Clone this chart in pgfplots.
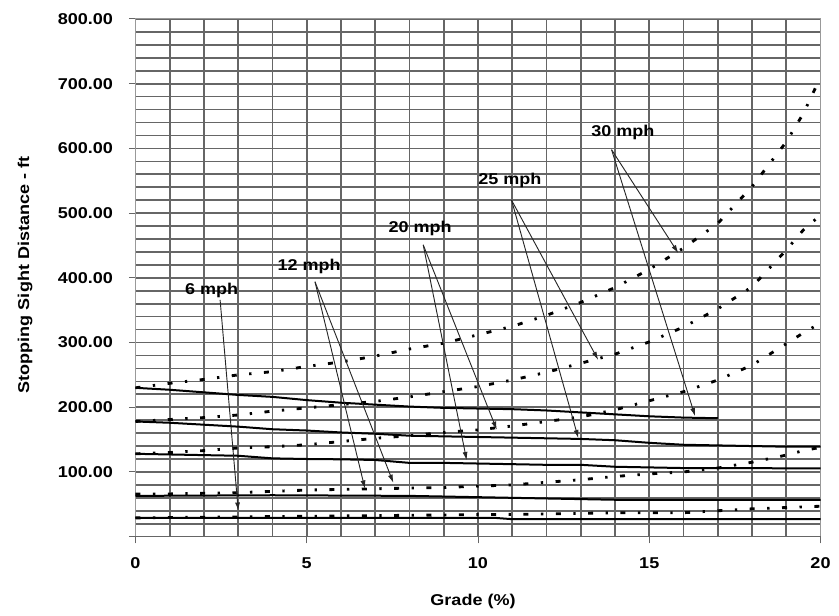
\documentclass[border=0pt]{standalone}
\usepackage{fontspec}
\setmainfont{Liberation Sans}[FakeStretch=1.15]
\usepackage{pgfplots}
\pgfplotsset{compat=1.18}
\usetikzlibrary{arrows.meta}
\newcommand\lbl{\fontsize{9.4}{11}\selectfont\bfseries}
\tikzset{
  solid line/.style={black, line width=1.2pt},
  dd line/.style={black, line width=1.7pt, dash pattern=on 3pt off 7.5pt on 1.4pt off 7.5pt},
  arr/.style={black!85, line width=0.55pt, -{Latex[length=5pt,width=3pt]}},
}
\begin{document}
\begin{tikzpicture}
\begin{axis}[
  width=411pt, height=310.6pt, scale only axis,
  xmin=0, xmax=20, ymin=0, ymax=800,
  xtick={0,5,10,15,20},
  ytick={100,200,...,800},
  extra y ticks={0}, extra y tick labels={},
  minor xtick={0,1,...,20},
  minor ytick={0,20,...,800},
  grid=both,
  major grid style={black!60, line width=1pt},
  minor grid style={black!60, line width=1pt},
  tick align=outside, major tick length=4pt, minor tick length=0pt,
  xtick pos=left, ytick pos=left,
  axis line style={black!40, line width=0.6pt},
  tick style={black!60, line width=0.6pt},
  /pgf/number format/assume math mode=true,
  ticklabel style={font=\lbl},
  yticklabel style={/pgf/number format/fixed, /pgf/number format/fixed zerofill, /pgf/number format/precision=2, xshift=-6pt},
  xticklabel style={yshift=-5pt},
  clip=false,
]
% 30 mph
\addplot[solid line] coordinates {(0,230)(1,227)(2,223)(3,219)(4,216)(5,211)(6,207)(7,204)(8,201)(9,199)(10,198)(11,197)(12,195)(13,192)(14,189)(15,186)(16,184)(17,183)};
\addplot[dd line] coordinates {(0,230)(1,237)(2,243)(3,250)(4,255)(5,263)(6,270)(7,279)(8,290)(9,299)(10,312)(11,325)(12,342)(13,362)(14,385)(15,413)(16,446)(17,484)(18,541)(19,610)(19.5,654)(20,710)};
% 25 mph
\addplot[solid line] coordinates {(0,178)(1,176)(2,173)(3,170)(4,166)(5,164)(6,161)(7,159)(8,156)(9,155)(10,154)(11,153)(12,152)(13,151)(14,149)(15,145)(16,142)(17,141)(18,140)(19,139)(20,139)};
\addplot[dd line] coordinates {(0,178)(1,181)(2,184)(3,188)(4,194)(5,199)(6,204)(7,209)(8,216)(9,224)(10,232)(11,242)(12,254)(13,268)(14,282)(15,301)(16,324)(17,352)(18,386)(19,443)(19.5,474)(20,497)};
% 20 mph
\addplot[solid line] coordinates {(0,128)(1,127)(2,126)(3,125)(4,121)(5,120)(6,119.5)(7,118.5)(8,114)(9,114)(10,113)(11,112)(12,111)(13,111)(14,108)(15,107)(16,106)(17,106)(18,106)(19,105.5)(20,105.5)};
\addplot[dd line] coordinates {(0,128)(1,130)(2,133)(3,137)(4,139)(5,142)(6,147)(7,152)(8,156)(9,161)(10,165)(11,171)(12,178)(13,185)(14,196)(15,210)(16,224)(17,242)(18,265)(19,298)(19.5,315)(20,330)};
% 12 mph
\addplot[solid line] coordinates {(0,63)(4,64)(8,63)(10,61)(12,59)(13,58)(14,57)(20,57)};
\addplot[dd line] coordinates {(0,66)(1,66)(2,67)(3,68)(4,70)(5,72)(6,73)(7,74)(8,75)(9,76)(10,78)(11,80)(12,84)(13,88)(14,93)(15,97)(16,100)(17,106)(18,115)(19,126)(19.5,133)(20,138)};
% 6 mph
\addplot[solid line] coordinates {(0,29)(10.5,29)(11,27)(20,27)};
\addplot[dd line] coordinates {(0,29)(2,30)(4,31)(6,32)(8,33)(10,34)(12,35)(13,36)(14,37)(16,37)(17,40)(18,43)(19,45)(20,47)};
% labels and arrows
\node[font=\lbl] at (axis cs:2.22,380) {6 mph};
\node[font=\lbl] at (axis cs:5.07,417) {12 mph};
\node[font=\lbl] at (axis cs:8.31,477) {20 mph};
\node[font=\lbl] at (axis cs:10.93,550) {25 mph};
\node[font=\lbl] at (axis cs:14.23,625) {30 mph};
\draw[arr] (axis cs:2.47,366) -- (axis cs:3.0,40);
\draw[arr] (axis cs:5.24,394) -- (axis cs:6.70,74);
\draw[arr] (axis cs:5.24,394) -- (axis cs:7.53,83);
\draw[arr] (axis cs:8.40,451) -- (axis cs:9.67,118);
\draw[arr] (axis cs:8.40,451) -- (axis cs:10.55,165);
\draw[arr] (axis cs:10.98,520) -- (axis cs:12.93,152);
\draw[arr] (axis cs:10.98,520) -- (axis cs:13.51,273);
\draw[arr] (axis cs:13.90,598) -- (axis cs:15.85,438);
\draw[arr] (axis cs:13.90,598) -- (axis cs:16.34,186);
\node[font=\lbl, rotate=90] at (rel axis cs:-0.1613,0.5055) {Stopping Sight Distance - ft};
\node[font=\lbl] at (rel axis cs:0.4927,-0.1261) {Grade (\%)};
\coordinate (bl) at (rel axis cs:0,0);
\coordinate (tr) at (rel axis cs:1,1);
\end{axis}
\pgfresetboundingbox
\path[use as bounding box] ([shift={(-81.3pt,-47.6pt)}]bl) rectangle ([shift={(11.1pt,11.4pt)}]tr);
\end{tikzpicture}
\end{document}
